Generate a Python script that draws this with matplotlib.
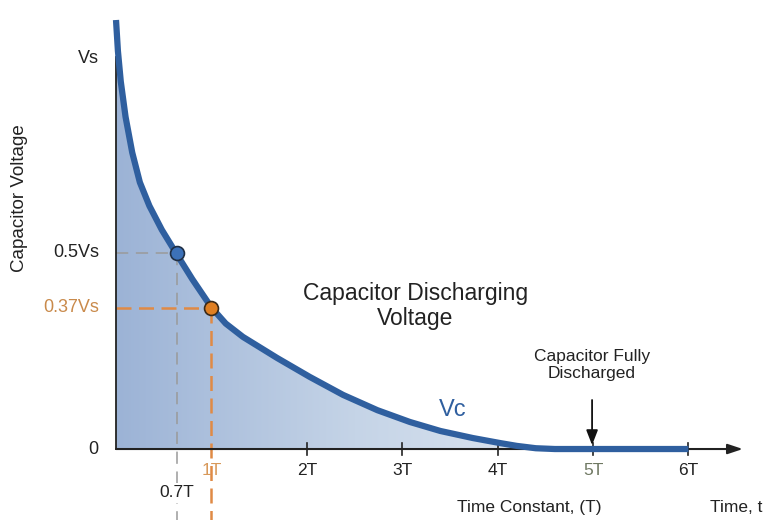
import numpy as np
import matplotlib
matplotlib.use('Agg')
import matplotlib.pyplot as plt
from matplotlib.colors import LinearSegmentedColormap

plt.rcParams['font.family'] = ['Liberation Sans', 'DejaVu Sans']

# curve (t in time constants, v as a fraction of Vs)
t_pts = [0.0, 0.02, 0.05, 0.10, 0.17, 0.25, 0.35, 0.48, 0.636, 0.80, 1.0, 1.15,
         1.33, 1.69, 2.03, 2.38, 2.74, 3.08, 3.40, 3.74, 4.03, 4.2, 4.4, 4.6, 6.0]
v_pts = [1.094, 1.015, 0.937, 0.847, 0.756, 0.68, 0.62, 0.559, 0.497, 0.433, 0.361, 0.32,
         0.286, 0.232, 0.184, 0.138, 0.099, 0.069, 0.046, 0.028, 0.015, 0.008, 0.002, 0.0, 0.0]

tick_pos = [2, 3, 4, 5, 6]
tick_lbl = ['2T', '3T', '4T', '5T', '6T']
half_pt = (0.636, 0.5)     # shown as 0.7T / 0.5Vs
tau_pt = (0.996, 0.36)     # 1T / 0.37Vs

fig = plt.figure(figsize=(7.68, 5.20), dpi=100)
ax = fig.add_axes([0, 0, 1, 1])
ax.set_xlim(-1.216, 6.834)
ax.set_ylim(-0.181, 1.145)
ax.axis('off')

# gradient fill under the curve
cmap = LinearSegmentedColormap.from_list('fill', ['#9cb3d6', '#c5d4e7', '#e2e9f2'])
grad = np.linspace(0, 1, 256).reshape(1, -1)
poly = ax.fill_between(t_pts, v_pts, 0, color='none', lw=0)
img = ax.imshow(grad, cmap=cmap, aspect='auto', extent=[0, 5, 0, 1.15], zorder=1)
img.set_clip_path(poly.get_paths()[0], transform=ax.transData)

# axes
ax.plot([0, 0], [0, 1.0], color='#222222', lw=1.3, zorder=3)
ax.annotate('', xy=(6.57, 0), xytext=(0, 0),
            arrowprops=dict(arrowstyle='-|>,head_length=0.9,head_width=0.3',
                            color='#222222', lw=1.5, shrinkA=0, shrinkB=0), zorder=3)
for p in tick_pos:
    ax.plot([p, p], [-0.015, 0.015], color='#222222', lw=1.2, zorder=3)

# dashed guides
ax.plot([0, half_pt[0]], [half_pt[1], half_pt[1]], ls=(0, (8, 5)), color='#9a9a9a', lw=1.1, zorder=2)
ax.plot([half_pt[0], half_pt[0]], [half_pt[1], -0.181], ls=(0, (8, 5)), color='#9a9a9a', lw=1.1, zorder=2)
ax.plot([0, tau_pt[0]], [tau_pt[1], tau_pt[1]], ls=(0, (6, 3)), color='#e08a45', lw=1.8, zorder=2)
ax.plot([tau_pt[0], tau_pt[0]], [tau_pt[1], -0.181], ls=(0, (6, 3)), color='#e08a45', lw=1.8, zorder=2)

# discharge curve
ax.plot(t_pts, v_pts, color='#2f5f9f', lw=4.5, solid_capstyle='butt',
        solid_joinstyle='round', zorder=4)
ax.plot(*half_pt, 'o', ms=10, mfc='#3c71b8', mec='#1f2f45', mew=1.2, zorder=5)
ax.plot(*tau_pt, 'o', ms=10, mfc='#e07f22', mec='#3a2a1a', mew=1.2, zorder=5)

# y labels
ax.text(-0.18, 0.995, 'Vs', ha='right', va='center', fontsize=13, color='#222222')
ax.text(-0.18, 0.5, '0.5Vs', ha='right', va='center', fontsize=13, color='#222222')
ax.text(-0.18, 0.36, '0.37Vs', ha='right', va='center', fontsize=13, color='#c98a4b')
ax.text(-0.18, 0.0, '0', ha='right', va='center', fontsize=13, color='#222222')
ax.text(-1.01, 0.64, 'Capacitor Voltage', rotation=90, ha='center', va='center',
        fontsize=13.5, color='#222222')

# x labels
ax.text(1.0, -0.035, '1T', ha='center', va='top', fontsize=12.5, color='#d8995a')
for p, s in zip(tick_pos, tick_lbl):
    ax.text(p, -0.035, s, ha='center', va='top', fontsize=12.5,
            color='#6f7862' if s == '5T' else '#222222')
ax.text(half_pt[0], -0.112, '0.7T', ha='center', va='center', fontsize=12.5, color='#222222',
        bbox=dict(fc='white', ec='none', pad=1.5), zorder=3)
ax.text(4.33, -0.148, 'Time Constant, (T)', ha='center', va='center', fontsize=12.5, color='#222222')
ax.text(6.50, -0.148, 'Time, t', ha='center', va='center', fontsize=12.5, color='#222222')

# annotations
ax.text(3.14, 0.365, 'Capacitor Discharging\nVoltage', ha='center', va='center',
        fontsize=16.5, color='#222222', linespacing=1.15)
ax.text(3.53, 0.10, 'Vc', ha='center', va='center', fontsize=17, color='#2f5f9f')
ax.text(4.99, 0.215, 'Capacitor Fully\nDischarged', ha='center', va='center',
        fontsize=12.5, color='#222222', linespacing=1.15)
ax.annotate('', xy=(4.99, 0.01), xytext=(4.99, 0.125),
            arrowprops=dict(arrowstyle='-|>,head_length=0.9,head_width=0.35',
                            color='#111111', lw=1.3, shrinkA=0, shrinkB=0), zorder=6)

fig.savefig('out.png', dpi=100, facecolor='white')
